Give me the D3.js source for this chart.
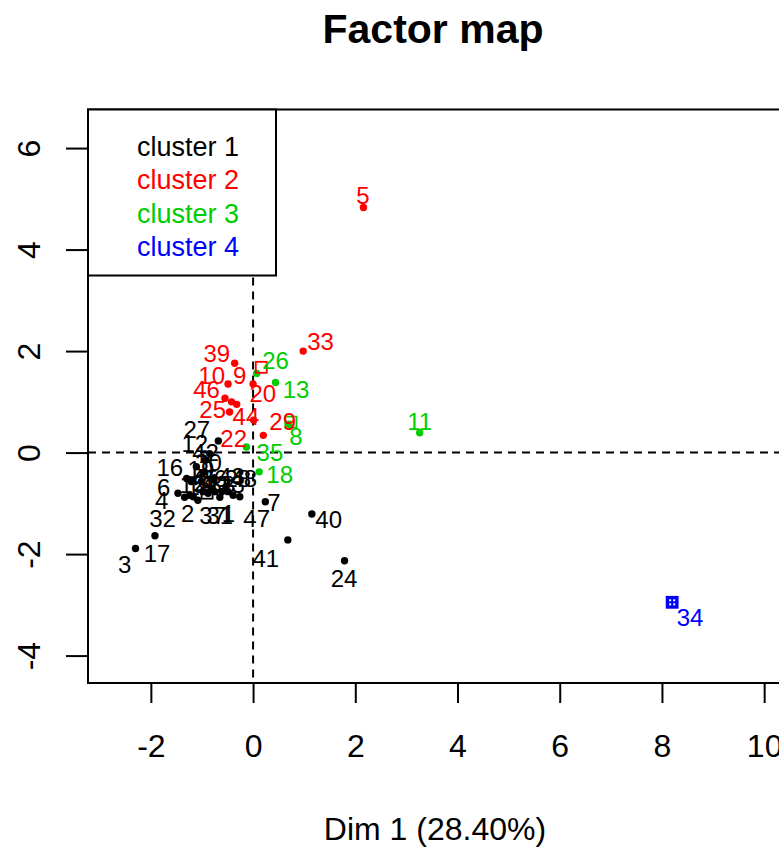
<!DOCTYPE html>
<html>
<head>
<meta charset="utf-8">
<script src="https://cdn.jsdelivr.net/npm/d3@7"></script>
<style>
  body { margin: 0; background: #fff; }
  svg { display: block; font-family: "Liberation Sans", Arial, sans-serif; }
</style>
</head>
<body>
<script>
// individuals: id, cluster, Dim 1, Dim 2, and where the label text sits (same units)
const ids      = [5, 33, 39, 10, 9, 46, 20, 25, 44, 22, 29,
                  26, 13, 11, 8, 35, 18,
                  34,
                  3, 17, 32, 4, 6, 16, 2, 12, 27, 19, 21, 28, 48, 47, 7, 40, 41, 24, 37, 31, 1,
                  14, 15, 23, 30, 36, 38, 42, 43, 45]
const clusters = [2, 2, 2, 2, 2, 2, 2, 2, 2, 2, 2,
                  3, 3, 3, 3, 3, 3,
                  4,
                  1, 1, 1, 1, 1, 1, 1, 1, 1, 1, 1, 1, 1, 1, 1, 1, 1, 1, 1, 1, 1,
                  1, 1, 1, 1, 1, 1, 1, 1, 1]
const dim1     = [2.16, 0.98, -0.36, -0.49, 0.00, -0.55, -0.32, -0.42, -0.46, 0.01, 0.20,
                  0.07, 0.44, 3.26, 0.70, -0.13, 0.12,
                  8.20,
                  -2.30, -1.92, -1.34, -1.47, -1.30, -1.11, -1.17, -0.85, -0.68, -1.21, -1.01, -0.61, -0.49, -0.26, 0.24, 1.15, 0.68, 1.79, -0.75, -0.88, -0.98,
                  -1.08, -1.24, -0.39, -0.95, -0.81, -0.65, -0.93, -0.53, -0.77]
const dim2     = [4.83, 2.00, 1.76, 1.35, 1.35, 1.07, 0.95, 1.00, 0.80, 0.64, 0.34,
                  1.56, 1.38, 0.39, 0.56, 0.11, -0.38,
                  -2.95,
                  -1.89, -1.64, -0.88, -0.80, -0.51, -0.28, -0.87, -0.02, 0.23, -0.57, -0.57, -0.77, -0.77, -0.87, -0.97, -1.21, -1.72, -2.13, -0.77, -0.80, -0.77,
                  -0.94, -0.84, -0.84, -0.38, -0.70, -0.88, -0.15, -0.68, -0.54]
const labDim1  = [2.15, 1.32, -0.71, -0.81, -0.26, -0.91, 0.19, -0.79, -0.14, -0.38, 0.58,
                  0.44, 0.84, 3.26, 0.84, 0.33, 0.52,
                  8.55,
                  -2.51, -1.88, -1.77, -1.79, -1.75, -1.63, -1.28, -1.14, -1.10, -1.02, -0.89, -0.30, -0.18, 0.07, 0.41, 1.48, 0.25, 1.78, -0.79, -0.65, -0.48,
                  -1.04, -1.18, -0.42, -0.87, -0.77, -0.61, -0.93, -0.42, -0.95]
const labDim2  = [5.07, 2.19, 1.96, 1.53, 1.53, 1.25, 1.17, 0.86, 0.72, 0.29, 0.62,
                  1.82, 1.25, 0.62, 0.31, 0.01, -0.42,
                  -3.24,
                  -2.21, -1.98, -1.29, -0.95, -0.68, -0.29, -1.20, 0.19, 0.46, -0.34, -0.58, -0.50, -0.50, -1.29, -0.99, -1.31, -2.08, -2.47, -1.23, -1.23, -1.19,
                  -0.66, -0.62, -0.62, -0.19, -0.50, -0.62, 0.01, -0.46, -0.50]

// cluster centres
const centerCluster = [1, 2, 3, 4]
const centerDim1    = [-0.90, 0.16, 0.74, 8.20]
const centerDim2    = [-0.80, 1.68, 0.60, -2.95]

const legendNames = ["cluster 1", "cluster 2", "cluster 3", "cluster 4"]
const clusterColors = ["black", "red", "#00cd00", "blue"]

const xTicks = [-2, 0, 2, 4, 6, 8, 10]
const yTicks = [-4, -2, 0, 2, 4, 6]

const W = 779, H = 848
const plot = {left: 88, right: 780, top: 109.5, bottom: 683}

const x = d3.scaleLinear([-3.23, 10.31], [plot.left, plot.right])
const y = d3.scaleLinear([-4.54, 6.76], [plot.bottom, plot.top])
const colour = d3.scaleOrdinal([1, 2, 3, 4], clusterColors)
const fmt = d => String(d)   // plain hyphen minus, like R

const svg = d3.select("body").append("svg")
    .attr("width", W)
    .attr("height", H)

// title
svg.append("text")
    .attr("x", 433).attr("y", 43)
    .attr("text-anchor", "middle")
    .style("font", "bold 41px 'Liberation Sans', Arial, sans-serif")
    .text("Factor map")

// x axis
const gx = svg.append("g")
    .attr("transform", `translate(0,${plot.bottom})`)
    .call(d3.axisBottom(x).tickValues(xTicks).tickFormat(fmt).tickSize(20).tickSizeOuter(0))
gx.select(".domain").remove()
gx.selectAll(".tick line").attr("stroke-width", 2)
gx.selectAll(".tick text")
    .attr("dy", "0.36em")
    .attr("y", 62)
    .style("font-size", "32px")
    .attr("fill", "#000")

// y axis (labels parallel to the axis, like R)
const gy = svg.append("g")
    .attr("transform", `translate(${plot.left},0)`)
    .call(d3.axisLeft(y).tickValues(yTicks).tickFormat(fmt).tickSize(22).tickSizeOuter(0))
gy.select(".domain").remove()
gy.selectAll(".tick line").attr("stroke-width", 2)
gy.selectAll(".tick text")
    .attr("x", null)
    .attr("text-anchor", "middle")
    .attr("transform", "translate(-60,0) rotate(-90)")
    .attr("y", 0)
    .attr("dy", "0.36em")
    .style("font-size", "32px")
    .attr("fill", "#000")

// axis title
svg.append("text")
    .attr("x", 435).attr("y", 828)
    .attr("dy", "0.36em")
    .attr("text-anchor", "middle")
    .style("font-size", "32px")
    .text("Dim 1 (28.40%)")

// dashed reference lines
svg.append("line")
    .attr("x1", plot.left).attr("x2", plot.right)
    .attr("y1", y(0)).attr("y2", y(0))
    .attr("stroke", "#000").attr("stroke-width", 2)
    .attr("stroke-dasharray", "8,6")
svg.append("line")
    .attr("x1", x(0)).attr("x2", x(0))
    .attr("y1", plot.top).attr("y2", plot.bottom)
    .attr("stroke", "#000").attr("stroke-width", 2)
    .attr("stroke-dasharray", "8,6")

const pts = ids.map((id, i) => ({id, cl: clusters[i], d1: dim1[i], d2: dim2[i], l1: labDim1[i], l2: labDim2[i]}))

// points
svg.append("g").selectAll("circle")
    .data(pts)
    .join("circle")
    .attr("cx", d => x(d.d1))
    .attr("cy", d => y(d.d2))
    .attr("r", 3.7)
    .attr("fill", d => colour(d.cl))

// cluster centres
const centres = centerCluster.map((c, i) => ({cl: c, d1: centerDim1[i], d2: centerDim2[i]}))
const cg = svg.append("g").selectAll("g")
    .data(centres)
    .join("g")
    .attr("transform", d => `translate(${x(d.d1)},${y(d.d2)})`)
cg.append("rect")
    .attr("x", -5.5).attr("y", -5.5)
    .attr("width", 11).attr("height", 11)
    .attr("fill", d => d.cl === 4 ? colour(d.cl) : "none")
    .attr("stroke", d => colour(d.cl))
    .attr("stroke-width", 1.8)
cg.filter(d => d.cl === 4).selectAll(".hole")
    .data([[-3, -3], [1, -3], [-3, 1], [1, 1]])
    .join("rect")
    .attr("x", d => d[0]).attr("y", d => d[1])
    .attr("width", 2).attr("height", 2)
    .attr("fill", "#fff")

// labels
svg.append("g")
    .style("font-size", "24px")
    .attr("text-anchor", "middle")
    .selectAll("text")
    .data(pts)
    .join("text")
    .attr("x", d => x(d.l1))
    .attr("y", d => y(d.l2))
    .attr("dy", "0.36em")
    .attr("fill", d => colour(d.cl))
    .text(d => d.id)

// plot frame
svg.append("rect")
    .attr("x", plot.left).attr("y", plot.top)
    .attr("width", plot.right - plot.left).attr("height", plot.bottom - plot.top)
    .attr("fill", "none").attr("stroke", "#000").attr("stroke-width", 2)

// legend
const lg = svg.append("g")
lg.append("rect")
    .attr("x", plot.left).attr("y", plot.top)
    .attr("width", 188).attr("height", 166)
    .attr("fill", "#fff").attr("stroke", "#000").attr("stroke-width", 2)
lg.selectAll("text")
    .data(legendNames)
    .join("text")
    .attr("x", 137)
    .attr("y", (d, i) => 146 + i * 33.5)
    .attr("dy", "0.36em")
    .style("font-size", "27px")
    .attr("fill", (d, i) => clusterColors[i])
    .text(d => d)
</script>
</body>
</html>
